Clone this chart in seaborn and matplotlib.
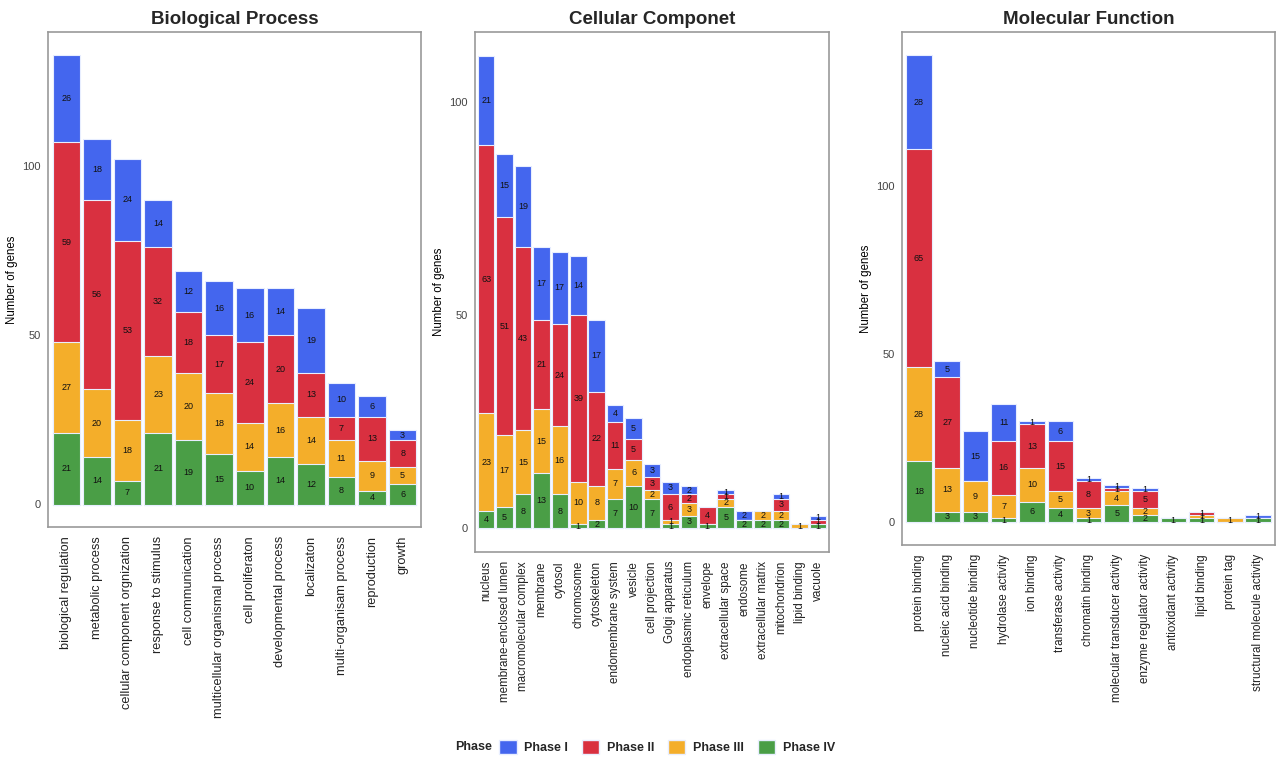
import numpy as np
import pandas as pd
import matplotlib
matplotlib.use("Agg")
import matplotlib.pyplot as plt
import seaborn as sns
from matplotlib.patches import Patch

# ---------------- data ----------------
bp_cats = ["biological regulation", "metabolic process", "cellular component orgnization",
           "response to stimulus", "cell communication", "multicellular organismal process",
           "cell proliferaton", "developmental process", "localizaton",
           "multi-organisam process", "reproduction", "growth"]
bp_p1 = [26, 18, 24, 14, 12, 16, 16, 14, 19, 10, 6, 3]
bp_p2 = [59, 56, 53, 32, 18, 17, 24, 20, 13, 7, 13, 8]
bp_p3 = [27, 20, 18, 23, 20, 18, 14, 16, 14, 11, 9, 5]
bp_p4 = [21, 14, 7, 21, 19, 15, 10, 14, 12, 8, 4, 6]

cc_cats = ["nucleus", "membrane-enclosed lumen", "macromolecular complex", "membrane",
           "cytosol", "chromosome", "cytoskeleton", "endomembrane system", "vesicle",
           "cell projection", "Golgi apparatus", "endoplasmic reticulum", "envelope",
           "extracellular space", "endosome", "extracellular matrix", "mitochondrion",
           "lipid binding", "vacuole"]
cc_p1 = [21, 15, 19, 17, 17, 14, 17, 4, 5, 3, 3, 2, 0, 1, 2, 0, 1, 0, 1]
cc_p2 = [63, 51, 43, 21, 24, 39, 22, 11, 5, 3, 6, 2, 4, 1, 0, 0, 3, 0, 1]
cc_p3 = [23, 17, 15, 15, 16, 10, 8, 7, 6, 2, 1, 3, 0, 2, 0, 2, 2, 1, 0]
cc_p4 = [4, 5, 8, 13, 8, 1, 2, 7, 10, 7, 1, 3, 1, 5, 2, 2, 2, 0, 1]

mf_cats = ["protein binding", "nucleic acid binding", "nucleotide binding", "hydrolase activity",
           "ion binding", "transferase activity", "chromatin binding",
           "molecular transducer activity", "enzyme regulator activity", "antioxidant activity",
           "lipid binding", "protein tag", "structural molecule activity"]
mf_p1 = [28, 5, 15, 11, 1, 6, 1, 1, 1, 0, 0, 0, 1]
mf_p2 = [65, 27, 0, 16, 13, 15, 8, 1, 5, 0, 1, 0, 0]
mf_p3 = [28, 13, 9, 7, 10, 5, 3, 4, 2, 0, 1, 1, 0]
mf_p4 = [18, 3, 3, 1, 6, 4, 1, 5, 2, 1, 1, 0, 1]

phases = ["Phase I", "Phase II", "Phase III", "Phase IV"]
colors = {"Phase I": "#4466EE", "Phase II": "#D93040", "Phase III": "#F4AE2A", "Phase IV": "#4A9E46"}

panels = [
    ("Biological Process", bp_cats, [bp_p1, bp_p2, bp_p3, bp_p4], [48, 32, 421, 527], 9.2),
    ("Cellular Componet", cc_cats, [cc_p1, cc_p2, cc_p3, cc_p4], [475, 32, 829, 552], 8.4),
    ("Molecular Function", mf_cats, [mf_p1, mf_p2, mf_p3, mf_p4], [902, 32, 1275, 545], 8.4),
]

W, H = 1277, 758
fig = plt.figure(figsize=(W / 100, H / 100), dpi=100)
sns.set_style("white")
plt.rcParams["font.family"] = ["Liberation Sans", "DejaVu Sans"]

for title, cats, vals, (x0, y0, x1, y1), tfs in panels:
    ax = fig.add_axes([x0 / W, 1 - y1 / H, (x1 - x0) / W, (y1 - y0) / H])
    p1, p2, p3, p4 = [np.array(v) for v in vals]
    # stacking order bottom->top: IV, III, II, I
    layers = [("Phase IV", p4), ("Phase III", p3), ("Phase II", p2), ("Phase I", p1)]
    cum = np.zeros(len(cats))
    bottoms, tops = [], []
    for name, v in layers:
        bottoms.append(cum.copy())
        cum = cum + v
        tops.append(cum.copy())
    # draw cumulative totals from tallest (top layer) to shortest
    for (name, v), top in reversed(list(zip(layers, tops))):
        df = pd.DataFrame({"cat": cats, "val": top})
        sns.barplot(data=df, x="cat", y="val", order=cats, color=colors[name],
                    width=0.9, edgecolor="#E8EEFF", linewidth=0.8, saturation=1,
                    ax=ax, errorbar=None)
    # segment labels
    for (name, v), b in zip(layers, bottoms):
        for i, (vi, bi) in enumerate(zip(v, b)):
            if vi > 0:
                ax.text(i, bi + vi / 2, str(vi), ha="center", va="center",
                        fontsize=6.5, color="#111111")
    total = cum.max()
    ax.set_ylim(-0.05 * total, total * 1.05)
    ax.set_xlim(-0.6, len(cats) - 0.4)
    ax.set_yticks([0, 50, 100])
    ax.tick_params(axis="y", labelsize=8, colors="#444444", length=3, width=0.8, pad=2)
    ax.tick_params(axis="x", labelsize=tfs, colors="#333333", length=3, width=0.8, rotation=90)
    for lab in ax.get_yticklabels():
        lab.set_color("#444444")
    for lab in ax.get_xticklabels():
        lab.set_color("#222222")
    ax.set_xlabel("")
    ax.set_ylabel("Number of genes", fontsize=8.3, color="black", labelpad=3)
    ax.set_title(title, fontsize=13.5, fontweight="bold", pad=6)
    for s in ax.spines.values():
        s.set_visible(True)
        s.set_color("#999999")
        s.set_linewidth(1.2)

handles = [Patch(facecolor=colors[p], edgecolor="#E8EEFF", label=p) for p in phases]
fig.text(455 / W, 1 - 747 / H, "Phase", fontsize=9, fontweight="bold", ha="left", va="center")
fig.legend(handles=handles, loc="center", bbox_to_anchor=(667 / W, 1 - 747 / H), ncol=4,
           frameon=False, prop={"size": 9, "weight": "bold"}, handlelength=1.4,
           handleheight=1.4, columnspacing=1.1, handletextpad=0.6)

fig.savefig("out.png", dpi=100)
